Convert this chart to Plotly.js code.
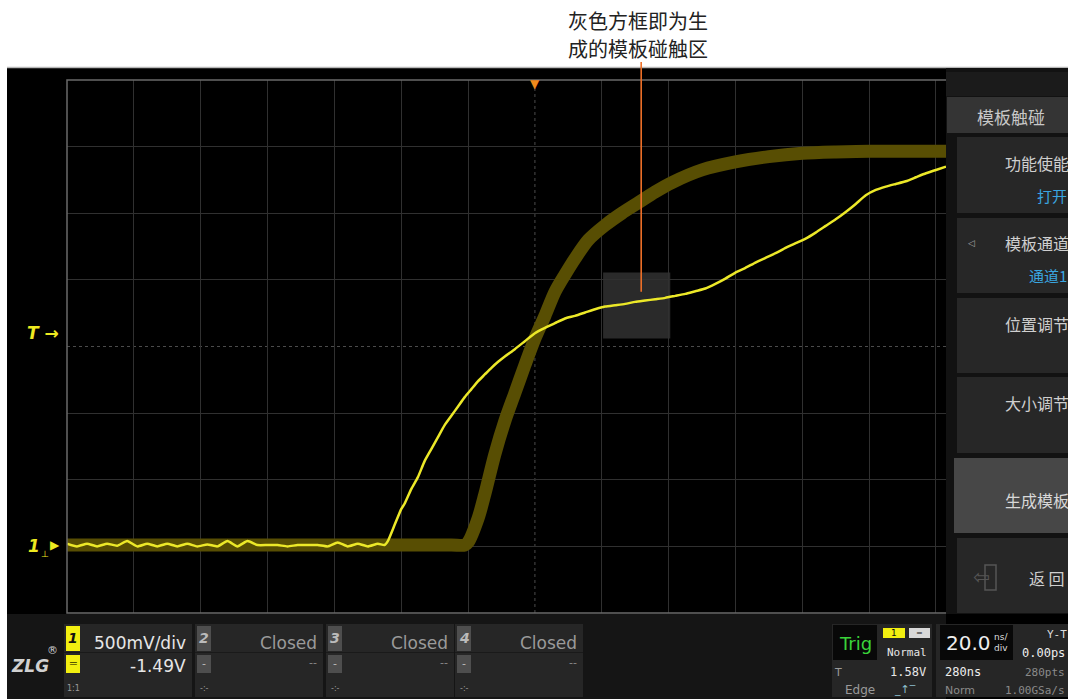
<!DOCTYPE html>
<html><head><meta charset="utf-8">
<script src="https://cdn.plot.ly/plotly-3.0.1.min.js"></script>
<style>html,body{margin:0;padding:0;background:#fff;}#chart{width:1068px;height:699px;}</style>
</head><body><div id="chart"></div>
<script>
// ---------- data (time in ns, voltage in V) ----------
const liveTime = [-140,-137,-134,-131,-128,-125,-122,-119,-116,-113,-110,-107,-104,-101,-98,-95,-92,-89,-86,-83,-80,-77,-74,-71,-68,-65,-62,-59,-56,-53,-50,-47,
  -45,-44,-42,-40,-39,-37,-35,-33,-31,-29,-27,-25,-23,-21,-19,-17,-15,-13,-11,-9,-6,-3,0,3,6,9,12,15,18,21,24,27,30,33,36,39,42,45,48,51,54,57,60,63,66,69,72,75,78,81,84,87,90,93,96,99,102,105,108,111,114,117,120,123];
const liveVolt = [0.01,-0.01,0.01,-0.01,0.01,-0.005,0.03,-0.01,0.01,-0.01,0.01,-0.01,0.01,-0.01,0.005,-0.01,0.03,-0.01,0.03,0,0,0,-0.01,0,0,0,-0.01,0.02,-0.01,0.01,-0.01,0.01,
  0.0,0.03,0.15,0.27,0.31,0.42,0.51,0.63,0.72,0.81,0.90,0.97,1.04,1.11,1.17,1.23,1.28,1.33,1.375,1.415,1.47,1.53,1.59,1.63,1.665,1.70,1.72,1.745,1.77,1.79,1.80,1.81,1.825,1.835,1.845,1.855,1.87,1.885,1.905,1.925,1.96,2.00,2.045,2.08,2.12,2.155,2.19,2.23,2.265,2.30,2.345,2.395,2.445,2.50,2.56,2.625,2.665,2.69,2.71,2.73,2.76,2.79,2.815,2.84];
const maskTime = [-140,-100,-60,-25,-21,-20,-17,-15,-12,-9,-6,-3,0,3,6,9,12,16,21,26,31,36,41,50,60,70,80,90,100,124];
const maskVolt = [0,0,0,0,0,0.02,0.2,0.38,0.68,0.93,1.14,1.35,1.55,1.72,1.9,2.03,2.15,2.29,2.4,2.49,2.57,2.65,2.72,2.815,2.875,2.915,2.94,2.95,2.955,2.955];
const hitZoneTime = [20.4, 40.5];
const hitZoneVolt = [1.55, 2.045];
const calloutTime = 31.8;
const calloutVolt = 1.90;
const calloutLines = ['灰色方框即为生', '成的模板碰触区'];
const triggerLevel = 1.58;
const menuTitle = '模板触碰';
const menuItems = ['功能使能', '模板通道', '位置调节', '大小调节', '生成模板', '返 回'];
const menuValues = ['打开', '通道1'];
const channelNames = ['1', '2', '3', '4'];
const channelScale = ['500mV/div', 'Closed', 'Closed', 'Closed'];
const channelOffset = ['-1.49V', '--', '--', '--'];

// ---------- layout helpers ----------
const L = 67, T = 80, W = 880, H = 533;
const xRange = [-140, 123.3], yRange = [-0.51, 3.49];
const px = x => (x - L) / W;
const py = y => (T + H - y) / H;
const CJK = '"Noto Sans CJK SC", "Noto Sans", sans-serif';
const SANS = '"DejaVu Sans", "Liberation Sans", sans-serif';
const MONO = '"DejaVu Sans Mono", monospace';
const shapes = [], ann = [];
function rect(x0, y0, x1, y1, fill, layer, line) {
  shapes.push({type: 'rect', xref: 'paper', yref: 'paper', x0: px(x0), x1: px(x1), y0: py(y1), y1: py(y0),
    fillcolor: fill, line: line || {width: 0}, layer: layer || 'above'});
}
function txt(x, y, text, size, color, anchor, family, extra) {
  ann.push(Object.assign({xref: 'paper', yref: 'paper', x: px(x), y: py(y), text: text, showarrow: false,
    xanchor: anchor || 'center', yanchor: 'middle', font: {size: size, color: color, family: family || SANS}}, extra || {}));
}

// screen background
rect(7, 68, 1068, 699, '#000000', 'below');
shapes.push({type: 'line', xref: 'paper', yref: 'paper', x0: px(7), x1: px(1068), y0: py(67.5), y1: py(67.5), line: {color: '#b8b8b8', width: 1.5}, layer: 'below'});
// hit zone (grey box)
shapes.push({type: 'rect', xref: 'x', yref: 'y', x0: hitZoneTime[0], x1: hitZoneTime[1], y0: hitZoneVolt[0], y1: hitZoneVolt[1],
  fillcolor: 'rgba(70,70,70,0.6)', line: {width: 0}, layer: 'below'});
// center dotted crosshair
shapes.push({type: 'line', xref: 'paper', yref: 'y', x0: 0, x1: 1, y0: 1.49, y1: 1.49, line: {color: 'rgb(75,75,75)', width: 1, dash: 'dot'}, layer: 'below'});
shapes.push({type: 'line', xref: 'x', yref: 'paper', x0: 0, x1: 0, y0: 0, y1: 1, line: {color: 'rgb(75,75,75)', width: 1, dash: 'dot'}, layer: 'below'});
// plot border
shapes.push({type: 'rect', xref: 'paper', yref: 'paper', x0: 0, x1: 1, y0: 0, y1: 1, line: {color: 'rgb(105,105,105)', width: 1.5}, layer: 'above'});
// callout line
shapes.push({type: 'line', xref: 'x', yref: 'paper', x0: calloutTime, x1: calloutTime,
  y0: (calloutVolt - yRange[0]) / (yRange[1] - yRange[0]), y1: py(62), line: {color: 'rgb(238,112,40)', width: 1.6}, layer: 'above'});

// right menu panel
rect(946, 68, 1068, 614, '#121212');
rect(946, 72, 1068, 96, '#1b1b1b');
rect(947, 97, 1068, 133, '#343434');
txt(1011, 116, menuTitle, 17, '#c8c8c8', 'center', CJK);
const btnY = [[137, 213], [218, 293], [298, 373], [377, 453], [458, 533], [538, 613]];
btnY.forEach((b, i) => {
  rect(i === 4 ? 954 : 957, b[0], 1068, b[1], i === 4 ? '#474747' : '#272727');
});
txt(1003, 163, menuItems[0], 16, '#cfcfcf', 'left', CJK);
txt(1035, 195, menuValues[0], 15, '#3aa6e0', 'left', CJK);
txt(972, 243, '◁', 9, '#aaaaaa', 'center');
txt(1003, 243, menuItems[1], 16, '#cfcfcf', 'left', CJK);
txt(1027, 275, menuValues[1], 15, '#3aa6e0', 'left', CJK);
txt(1003, 324, menuItems[2], 16, '#cfcfcf', 'left', CJK);
txt(1003, 403, menuItems[3], 16, '#cfcfcf', 'left', CJK);
txt(1003, 500, menuItems[4], 16, '#d8d8d8', 'left', CJK);
txt(981, 577, '⇦', 20, '#555555', 'center');
shapes.push({type: 'rect', xref: 'paper', yref: 'paper', x0: px(985), x1: px(996), y0: py(590), y1: py(565), line: {color: '#555555', width: 1.5}, layer: 'above'});
txt(1027, 578, menuItems[5], 16, '#cfcfcf', 'left', CJK);

// bottom status bar
rect(7, 614, 946, 699, '#151515');
txt(30, 666, '<b><i>ZLG</i></b>', 17, '#d0d0d0', 'center');
txt(52, 650, '®', 11, '#d0d0d0', 'center');
const chX = [64, 195, 326, 455];
const chW = 128;
chX.forEach((x0, i) => {
  rect(x0, 624, x0 + chW, 697, '#262626');
  rect(x0, 652, x0 + chW, 653, '#1a1a1a');
  const on = i === 0;
  rect(x0 + 2, 626, x0 + 16, 651, on ? '#f2ef10' : '#4e4e4e');
  txt(x0 + 9, 638, '<b><i>' + channelNames[i] + '</i></b>', 14, on ? '#111111' : '#bbbbbb', 'center');
  rect(x0 + 2, 655, x0 + 16, 673, on ? '#f2ef10' : '#4e4e4e');
  txt(x0 + 9, 663, on ? '═' : '-', 11, on ? '#555500' : '#bbbbbb', 'center');
  txt(x0 + 9, 688, on ? '1:1' : '-:-', 8, '#9a9a9a', 'center');
  txt(x0 + chW - 4, 643, channelScale[i], 17, on ? '#e6e6e6' : '#9a9a9a', 'right');
  txt(x0 + chW - 4, on ? 666 : 662, channelOffset[i], on ? 17 : 11, on ? '#e6e6e6' : '#8a8a8a', 'right');
});
// trigger block
rect(832, 624, 932, 697, '#262626');
rect(833, 625, 877, 660, '#080808');
txt(855, 643, 'Trig', 18, '#3ad43a', 'center');
rect(883, 628, 905, 638, '#f2ef10');
txt(894, 633, '1', 9, '#111111', 'center');
rect(909, 628, 930, 638, '#d8d8d8');
txt(919, 633, '═', 8, '#555555', 'center');
txt(907, 652, 'Normal', 11, '#e6e6e6', 'center', MONO);
txt(838, 672, 'T', 11, '#9a9a9a', 'center');
txt(928, 672, triggerLevel.toFixed(2) + 'V', 12, '#e6e6e6', 'right', MONO);
txt(860, 690, 'Edge', 12, '#9a9a9a', 'center');
txt(905, 689, '_↑‾', 11, '#8fc0d0', 'center');
// timebase block
rect(936, 624, 1068, 697, '#262626');
rect(940, 625, 1013, 660, '#080808');
txt(968, 643, '20.0', 20, '#eeeeee', 'center');
txt(1001, 637, 'ns/', 9, '#dddddd', 'center');
txt(1001, 648, 'div', 9, '#dddddd', 'center');
txt(1057, 634, 'Y-T', 11, '#dddddd', 'center', MONO);
txt(1067, 653, '0.00ps', 12, '#eeeeee', 'right', MONO);
txt(943, 672, '280ns', 12, '#eeeeee', 'left', MONO);
txt(1067, 672, '280pts', 11, '#8a8a8a', 'right', MONO);
txt(943, 690, 'Norm', 11, '#8a8a8a', 'left');
txt(1067, 690, '1.00GSa/s', 11, '#8a8a8a', 'right', MONO);

// left markers and trigger pointer
txt(43, 333, '<b><i>T</i> →</b>', 17, '#eeea20', 'center');
txt(34, 546, '<b><i>1</i></b>', 17, '#eeea20', 'center');
txt(45, 554, '⊥', 9, '#eeea20', 'center');
txt(55, 545, '▶', 12, '#eeea20', 'center');
ann.push({xref: 'x', yref: 'paper', x: 0, y: 1, yshift: -4, text: '▼', showarrow: false, xanchor: 'center', yanchor: 'middle',
  font: {size: 12, color: '#f08a1c', family: SANS}});
// callout text
txt(638, 21, calloutLines[0], 20, '#222222', 'center', CJK);
txt(638, 49, calloutLines[1], 20, '#222222', 'center', CJK);

// grid values (skip center lines, drawn dotted)
const xGrid = [], yGrid = [];
for (let k = -7; k <= 6; k++) if (k !== 0) xGrid.push(k * 20);
for (let k = 0; k <= 8; k++) if (k !== 4) yGrid.push(+(yRange[0] + k * 0.5).toFixed(2));

const traces = [
  {x: maskTime, y: maskVolt, type: 'scatter', mode: 'lines', line: {color: 'rgb(88,78,3)', width: 13, shape: 'spline', smoothing: 0.8}, hoverinfo: 'skip'},
  {x: liveTime, y: liveVolt, type: 'scatter', mode: 'lines', line: {color: 'rgb(236,232,40)', width: 2.5, shape: 'spline', smoothing: 0.5}, hoverinfo: 'skip'}
];
const gridAx = {showgrid: true, gridcolor: 'rgb(48,48,48)', gridwidth: 1, zeroline: false, showticklabels: false, ticks: '', showline: false, fixedrange: true};
const tickAx = {showgrid: false, zeroline: false, showticklabels: false, showline: false, ticklen: 3, tickcolor: 'rgb(80,80,80)', tickwidth: 1, ticks: 'outside', anchor: 'free'};
const layout = {
  width: 1068, height: 699, autosize: false,
  margin: {l: L, r: 1068 - L - W, t: T, b: 699 - T - H, pad: 0},
  paper_bgcolor: '#ffffff', plot_bgcolor: '#000000', showlegend: false, hovermode: false,
  xaxis: Object.assign({range: xRange, tickmode: 'array', tickvals: xGrid}, gridAx),
  yaxis: Object.assign({range: yRange, tickmode: 'array', tickvals: yGrid}, gridAx),
  xaxis2: Object.assign({overlaying: 'x', range: xRange, tick0: 0, dtick: 4, side: 'bottom', position: 0.5}, tickAx),
  xaxis3: Object.assign({overlaying: 'x', range: xRange, tick0: 0, dtick: 4, side: 'top', position: 0.5}, tickAx),
  yaxis2: Object.assign({overlaying: 'y', range: yRange, tick0: 1.49, dtick: 0.1, side: 'left', position: px(533)}, tickAx),
  yaxis3: Object.assign({overlaying: 'y', range: yRange, tick0: 1.49, dtick: 0.1, side: 'right', position: px(533)}, tickAx),
  shapes: shapes, annotations: ann
};
Plotly.newPlot('chart', traces, layout, {displayModeBar: false, staticPlot: true});
</script></body></html>
